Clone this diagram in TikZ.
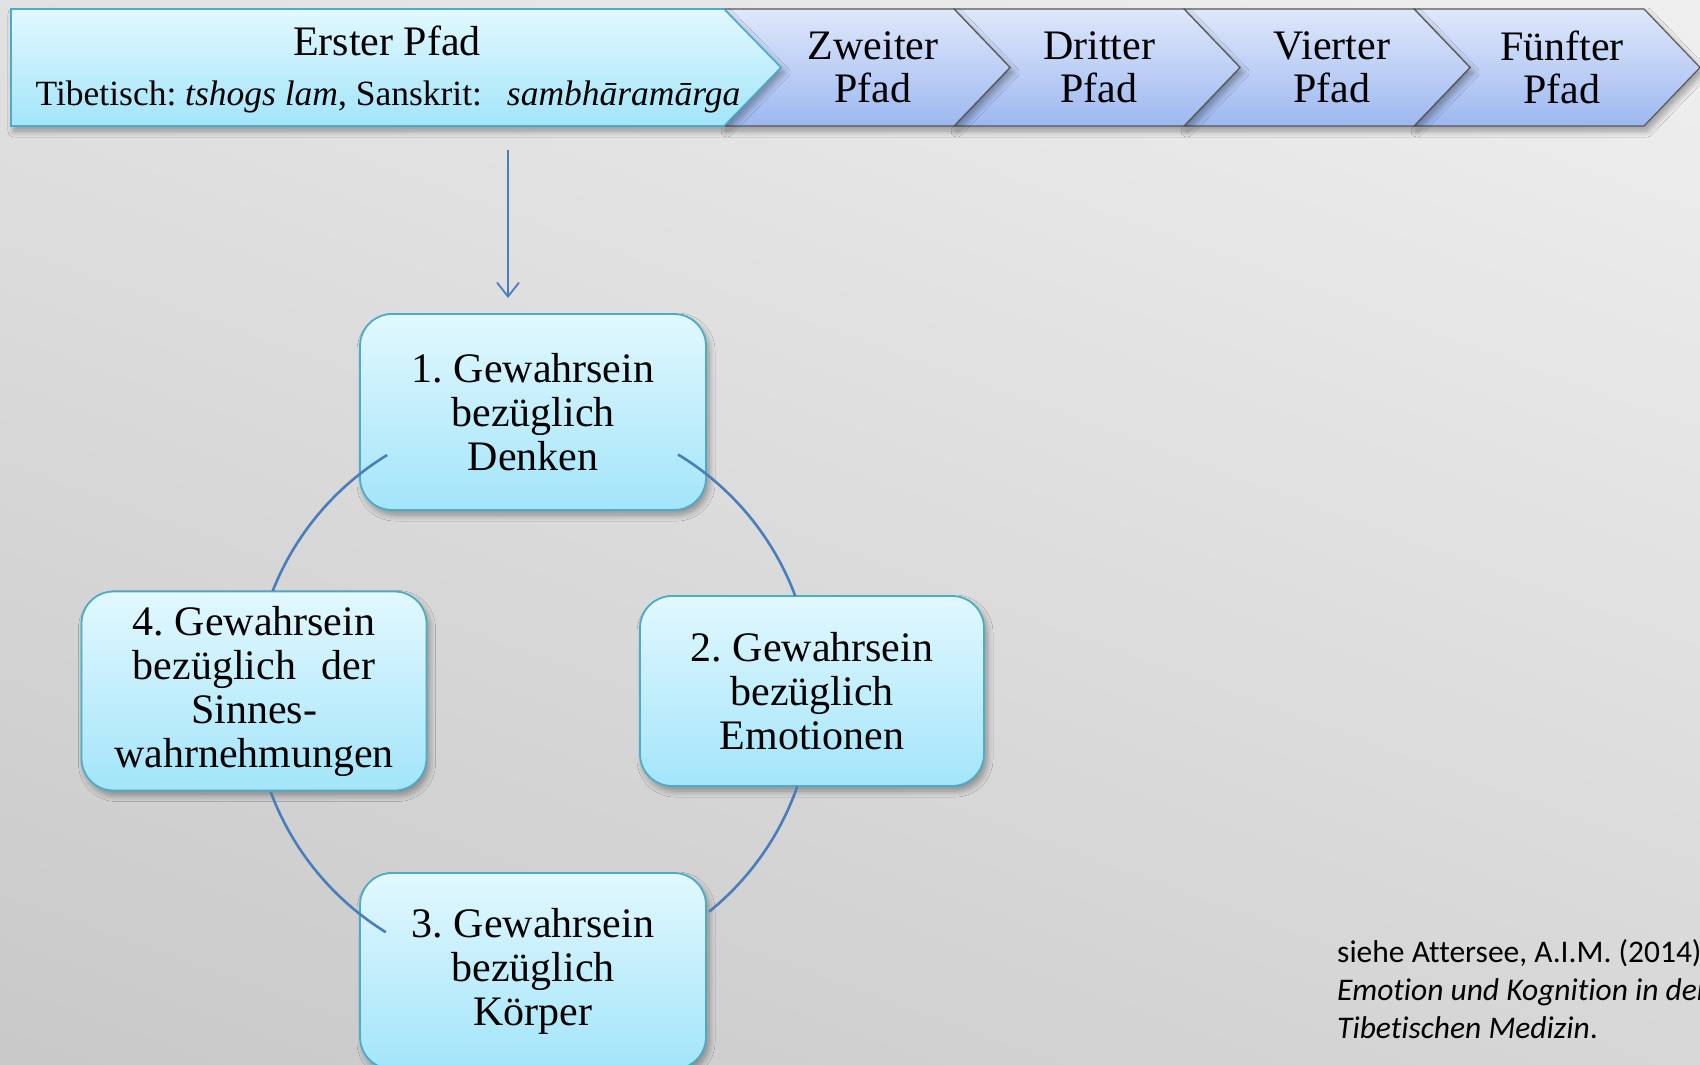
\documentclass[tikz,border=0pt]{standalone}
\usepackage{fontspec}
\setmainfont{Liberation Serif}
\newfontfamily\notefont[Ligatures=NoCommon]{Carlito}
\usetikzlibrary{shadows.blur,arrows.meta,calc}
\definecolor{bgtop}{HTML}{F0F0F0}
\definecolor{bgbot}{HTML}{C8C8C8}
\definecolor{boxtop}{HTML}{E2F8FE}
\definecolor{boxbot}{HTML}{A3E5FA}
\definecolor{boxline}{HTML}{4BACC6}
\definecolor{chevtop}{HTML}{DFE8FB}
\definecolor{chevbot}{HTML}{9DB8F0}
\definecolor{chevline}{HTML}{595959}
\definecolor{conncol}{HTML}{4A7EBB}
\tikzset{
  softshadow/.style={blur shadow={shadow xshift=3pt, shadow yshift=-5pt, shadow blur radius=6pt, shadow blur steps=8, shadow opacity=35}},
  chev/.style={draw=chevline, line width=1.2pt, top color=chevtop, bottom color=chevbot, softshadow},
  firstchev/.style={draw=boxline, line width=1.6pt, top color=boxtop, bottom color=boxbot, softshadow},
  chevtext/.style={font=\fontsize{42}{43}\selectfont, align=center, text=black, inner sep=0pt},
  subtext/.style={font=\fontsize{35.5}{38}\selectfont, text=black, inner sep=0pt},
  cyclebox/.style={draw=boxline, line width=1.8pt, top color=boxtop, bottom color=boxbot, rounded corners=32pt, softshadow,
    font=\fontsize{42}{44}\selectfont, align=center, text=black, inner sep=0pt},
  conn/.style={draw=conncol, line width=2.6pt},
  arrowline/.style={draw=conncol, line width=1.8pt},
  notetext/.style={font=\notefont\fontsize{31.5}{38}\selectfont, align=left, text=black, inner sep=0pt}
}
\begin{document}
\frenchspacing
\begin{tikzpicture}[x=1pt,y=-1pt]
\useasboundingbox (0,0) rectangle (1700,1065);
\clip (0,0) rectangle (1700,1065);
% background
\shade[top color=bgtop, bottom color=bgbot, shading angle=-20] (-200,-200) rectangle (1900,1265);

% chevrons
\foreach \L in {1414,1184,954,724}{
  \path[chev] (\L,9) -- (\L+230,9) -- (\L+286,67.5) -- (\L+230,126) -- (\L,126) -- (\L+56,67.5) -- cycle;
}
\path[firstchev] (11,9) -- (724,9) -- (781,67.5) -- (724,126) -- (11,126) -- cycle;

\node[chevtext] (p1) at (387,41) {Erster Pfad};
\node[subtext] (p1s) at (388,97) {Tibetisch: \textit{tshogs lam}, Sanskrit:\hspace{0.7em}\textit{sambhāramārga}};
\node[chevtext] (p2) at (873,67) {Zweiter\\Pfad};
\node[chevtext] (p3) at (1099,67) {Dritter\\Pfad};
\node[chevtext] (p4) at (1332,67) {Vierter\\Pfad};
\node[chevtext] (p5) at (1562,67) {Fünfter\\Pfad};

% boxes
\node[cyclebox, minimum width=346pt, minimum height=196pt] (b1) at (533,412) {1. Gewahrsein\\bezüglich\\Denken};
\node[cyclebox, minimum width=344pt, minimum height=190pt] (b2) at (812,691) {2. Gewahrsein\\bezüglich\\Emotionen};
\node[cyclebox, minimum width=346pt, minimum height=196pt] (b3) at (533,971) {3. Gewahrsein\\bezüglich\\Körper};
\node[cyclebox, minimum width=345pt, minimum height=199pt] (b4) at (254,691) {4. Gewahrsein\\bezüglich\hspace{0.6em}der\\Sinnes-\\wahrnehmungen};

% arrow from first path to cycle
\coordinate (as) at (508,150);
\coordinate (ae) at (508,298);
\draw[arrowline, -{Straight Barb[length=14pt,width=22pt]}] (as) -- (ae);

% cycle connectors (arcs of one circle)
\coordinate (ctr) at (533,694);
\coordinate (c41) at ($(ctr)+(-121.4:280)$);
\coordinate (c12) at ($(ctr)+(-58.8:280)$);
\coordinate (c23) at ($(ctr)+(19.3:280)$);
\coordinate (c34) at ($(ctr)+(159.5:280)$);
\draw[conn] (c41) arc[start angle=-121.4, end angle=-158.4, radius=280];
\draw[conn] (c12) arc[start angle=-58.8, end angle=-20.5, radius=280];
\draw[conn] (c23) arc[start angle=19.3, end angle=51, radius=280];
\draw[conn] (c34) arc[start angle=159.5, end angle=121.7, radius=280];

% note
\node[notetext, anchor=west] (note) at (1337,989) {siehe Attersee, A.I.M. (2014)\\\textit{Emotion und Kognition in der}\\\textit{Tibetischen Medizin}.};
\end{tikzpicture}
\end{document}
